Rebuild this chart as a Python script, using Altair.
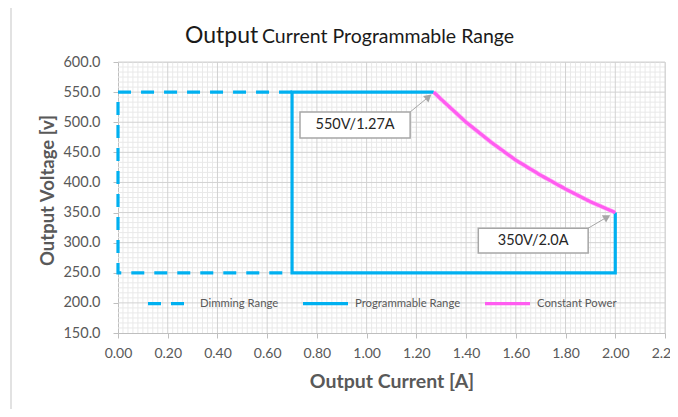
import altair as alt
import pandas as pd

# ---- data ----
dim_x = [0.70, 0.00, 0.00, 0.70]
dim_y = [550, 550, 250, 250]
prog_x = [1.27, 0.70, 0.70, 2.00, 2.00]
prog_y = [550, 550, 250, 250, 350]
cp_x = [1.27, 1.30, 1.40, 1.50, 1.60, 1.70, 1.80, 1.90, 2.00]
cp_y = [550, 538, 500, 467, 437, 412, 389, 368, 350]
series_names = ["Dimming Range", "Programmable Range", "Constant Power"]

x_ticks = [round(0.2 * i, 2) for i in range(12)]
y_ticks = [150 + 50 * i for i in range(10)]

# annotation boxes (data coords)
box_text = ["550V/1.27A", "350V/2.0A"]
box_x1 = [0.732, 1.449]
box_x2 = [1.175, 1.891]
box_y1 = [517, 324]
box_y2 = [474, 283]
arrow_x1 = [1.175, 1.891]
arrow_y1 = [517, 324]
arrow_x2 = [1.249, 1.967]
arrow_y2 = [542, 342.5]
arrow_angle = [50, 60]

BLUE = "#00B0F0"
PINK = "#FF5CF0"
GLOW = "#FFB8F7"
GRAY = "#595959"
FONT = "Lato"

rows = []
for i, (x, y) in enumerate(zip(dim_x, dim_y)):
    rows.append({"s": series_names[0], "x": x, "y": y, "o": i})
for i, (x, y) in enumerate(zip(prog_x, prog_y)):
    rows.append({"s": series_names[1], "x": x, "y": y, "o": i})
for i, (x, y) in enumerate(zip(cp_x, cp_y)):
    rows.append({"s": series_names[2], "x": x, "y": y, "o": i})
df = pd.DataFrame(rows)

xs = alt.Scale(domain=[0, 2.2], nice=False, zero=False)
ys = alt.Scale(domain=[150, 600], nice=False, zero=False)

x_axis = alt.Axis(values=x_ticks, format=".2f", title="Output Current [A]",
                  grid=False, labelOverlap=False, labelFlush=False,
                  domainColor="#bfbfbf", tickColor="#bfbfbf", tickSize=5,
                  labelColor=GRAY, labelFont=FONT, labelFontSize=14, labelPadding=8,
                  titleColor=GRAY, titleFont=FONT, titleFontSize=19.5, titleFontWeight="bold",
                  titleX=273.5, titleY=48, titleBaseline="middle", titleAlign="center")
y_axis = alt.Axis(values=y_ticks, format=".1f", title="Output Voltage [v]",
                  grid=False, labelOverlap=False, labelFlush=False,
                  domainColor="#bfbfbf", tickColor="#bfbfbf", tickSize=5,
                  labelColor=GRAY, labelFont=FONT, labelFontSize=14.5, labelPadding=13,
                  titleColor=GRAY, titleFont=FONT, titleFontSize=18.5, titleFontWeight="bold",
                  titleX=-71, titleY=128, titleAngle=270, titleBaseline="middle", titleAlign="center")

def X(field):
    return alt.X(field, scale=xs, axis=x_axis)

def Y(field):
    return alt.Y(field, scale=ys, axis=y_axis)

base_axes = alt.Chart(pd.DataFrame({"x": [0], "y": [150]})).mark_point(opacity=0).encode(
    x=X("x:Q"), y=Y("y:Q"))

minor_x = [round(0.02 * i, 3) for i in range(111) if i % 10 != 0]
minor_y = [150 + 50 / 6 * i for i in range(55) if i % 6 != 0]

minor_v = alt.Chart(pd.DataFrame({"x": minor_x})).mark_rule(color="#e9e9e9", strokeWidth=1).encode(
    x=X("x:Q"))
minor_h = alt.Chart(pd.DataFrame({"y": minor_y})).mark_rule(color="#e9e9e9", strokeWidth=1).encode(
    y=Y("y:Q"))
major_v = alt.Chart(pd.DataFrame({"x": x_ticks[1:]})).mark_rule(color="#d2d2d2", strokeWidth=1).encode(
    x=X("x:Q"))
major_h = alt.Chart(pd.DataFrame({"y": y_ticks[1:]})).mark_rule(color="#d2d2d2", strokeWidth=1).encode(
    y=Y("y:Q"))

glow = alt.Chart(df[df.s == "Constant Power"]).mark_line(color=GLOW, strokeWidth=4.5).encode(
    x=X("x:Q"), y=Y("y:Q"), order="o:Q")

leg = dict(title=None, orient="none", direction="horizontal",
           legendX=28, legendY=217, symbolType="stroke",
           symbolSize=2025, symbolStrokeWidth=3,
           labelFont=FONT, labelFontSize=11.3, labelColor=GRAY,
           labelOffset=5, columnPadding=17, padding=0, labelLimit=200)

lines = alt.Chart(df).mark_line(strokeCap="butt", strokeJoin="miter").encode(
    x=X("x:Q"),
    y=Y("y:Q"),
    order="o:Q",
    color=alt.Color("s:N", scale=alt.Scale(domain=series_names, range=[BLUE, BLUE, PINK]),
                    legend=alt.Legend(**leg)),
    strokeDash=alt.StrokeDash("s:N", scale=alt.Scale(domain=series_names,
                                                      range=[[13, 10], [1, 0], [1, 0]]),
                              legend=alt.Legend(**leg)),
    strokeWidth=alt.StrokeWidth("s:N", scale=alt.Scale(domain=series_names, range=[3.2, 3.2, 2]), legend=None),
)

ann = pd.DataFrame({"t": box_text, "x1": box_x1, "x2": box_x2, "y1": box_y1, "y2": box_y2,
                    "ax1": arrow_x1, "ay1": arrow_y1, "ax2": arrow_x2, "ay2": arrow_y2,
                    "ang": arrow_angle})
ann["cx"] = (ann.x1 + ann.x2) / 2
ann["cy"] = (ann.y1 + ann.y2) / 2

arrow_line = alt.Chart(ann).mark_rule(color="#a6a6a6", strokeWidth=1).encode(
    x=X("ax1:Q"), y=Y("ay1:Q"), x2="ax2:Q", y2="ay2:Q")
arrow_head = alt.Chart(ann).mark_point(shape="triangle-up", filled=True, color="#a6a6a6",
                                       size=70, opacity=1).encode(
    x=X("ax2:Q"), y=Y("ay2:Q"), angle=alt.Angle("ang:Q", scale=None))
boxes = alt.Chart(ann).mark_rect(fill="white", stroke="#a6a6a6", strokeWidth=1.5).encode(
    x=X("x1:Q"), x2="x2:Q", y=Y("y1:Q"), y2="y2:Q")
box_labels = alt.Chart(ann).mark_text(font=FONT, fontSize=14.5, color="#262626").encode(
    x=X("cx:Q"), y=Y("cy:Q"), text="t:N")

title1 = alt.Chart(pd.DataFrame({"t": ["Output"]})).mark_text(
    font=FONT, fontSize=23, color="#1a1a1a", align="left", baseline="alphabetic").encode(
    x=alt.value(67), y=alt.value(-19), text="t:N")
title2 = alt.Chart(pd.DataFrame({"t": ["Current Programmable Range"]})).mark_text(
    font=FONT, fontSize=19.5, color="#1a1a1a", align="left", baseline="alphabetic").encode(
    x=alt.value(144), y=alt.value(-19), text="t:N")

frame = alt.Chart(pd.DataFrame({"f": [1]})).mark_rule(color="#d9d9d9", strokeWidth=1.5).encode(
    x=alt.value(-107), y=alt.value(-62), y2=alt.value(360))

chart = alt.layer(base_axes, minor_v, minor_h, major_v, major_h, glow, lines, arrow_line,
                  arrow_head, boxes, box_labels, title1, title2, frame).properties(
    width=547, height=271,
    autosize=alt.AutoSizeParams(type="none"),
    padding={"left": 110, "top": 54, "right": 5, "bottom": 76},
).configure_view(stroke=None).configure_axis(labelOverlap=False).configure(background="white")

chart.save("out.html", embed_options={"renderer": "svg", "actions": False})
